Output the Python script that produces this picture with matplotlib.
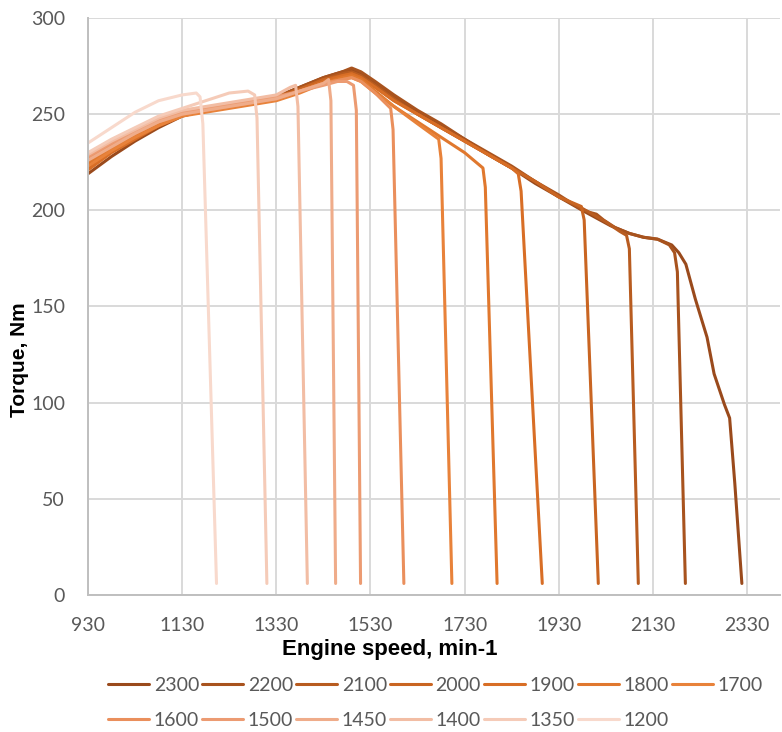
import matplotlib
matplotlib.use("Agg")
import matplotlib.pyplot as plt

# Governor speed settings (legend order) and line colours
settings = ["2300", "2200", "2100", "2000", "1900", "1800", "1700",
            "1600", "1500", "1450", "1400", "1350", "1200"]
colors = ["#9A4A1C", "#A8531E", "#B85C20", "#C96522", "#D86E26", "#E0782E", "#E8823A",
          "#EA8F5C", "#EC9B72", "#EFAC8A", "#F2BDA4", "#F5CBB8", "#F8D9CC"]

# Torque curves: engine speed (min-1) and torque (Nm) for each setting
speed_2300 = [930, 980, 1030, 1080, 1130, 1180, 1230, 1280, 1330, 1380, 1430, 1470, 1490, 1510,
              1540, 1580, 1630, 1680, 1730, 1780, 1830, 1880, 1930, 1980, 2010, 2040, 2080, 2110,
              2140, 2170, 2185, 2200, 2220, 2245, 2260, 2282, 2293, 2304, 2319]
torque_2300 = [219, 228, 236, 243, 249, 252, 254, 256, 259, 264, 269, 272, 273, 271,
               266, 259, 251, 244, 237, 229, 222, 214, 207, 200, 196, 192, 188, 186,
               185, 182, 178, 172, 154, 134, 115, 99, 92, 58, 6]

speed_2200 = [930, 980, 1030, 1080, 1130, 1180, 1230, 1280, 1330, 1380, 1430, 1470, 1490, 1510,
              1540, 1580, 1630, 1680, 1730, 1780, 1830, 1880, 1930, 1975, 1995, 2010, 2025, 2050,
              2080, 2110, 2140, 2165, 2176, 2182, 2199]
torque_2200 = [226, 233, 240, 246, 251, 253, 255, 257, 259, 264, 269, 272, 274, 272,
               267, 260, 252, 245, 237, 230, 223, 215, 208, 201, 199, 198, 195, 191,
               188, 186, 185, 182, 178, 168, 6]

speed_2100 = [930, 980, 1030, 1080, 1130, 1180, 1230, 1280, 1330, 1380, 1430, 1470, 1490, 1510,
              1540, 1580, 1630, 1680, 1730, 1780, 1830, 1880, 1930, 1980, 2030, 2060, 2074, 2080,
              2099]
torque_2100 = [222, 231, 238, 245, 250, 252, 254, 256, 258, 263, 268, 271, 272, 270,
               265, 258, 250, 243, 236, 229, 222, 215, 207, 201, 194, 189, 187, 180,
               6]

speed_2000 = [930, 980, 1030, 1080, 1130, 1180, 1230, 1280, 1330, 1380, 1430, 1470, 1490, 1510,
              1540, 1580, 1630, 1680, 1730, 1780, 1830, 1880, 1930, 1978, 1984, 2014]
torque_2000 = [224, 232, 239, 246, 251, 253, 255, 257, 259, 263, 268, 270, 271, 269,
               264, 257, 250, 243, 236, 229, 222, 215, 207, 202, 195, 6]

speed_1900 = [930, 980, 1030, 1080, 1130, 1180, 1230, 1280, 1330, 1380, 1430, 1470, 1490, 1510,
              1540, 1580, 1630, 1680, 1730, 1780, 1830, 1844, 1850, 1895]
torque_1900 = [221, 230, 237, 244, 249, 252, 254, 256, 258, 262, 267, 270, 271, 269,
               264, 257, 250, 243, 236, 229, 222, 219, 210, 6]

speed_1800 = [930, 980, 1030, 1080, 1130, 1180, 1230, 1280, 1330, 1380, 1430, 1470, 1490, 1510,
              1540, 1580, 1630, 1680, 1730, 1769, 1774, 1799]
torque_1800 = [225, 232, 239, 245, 250, 252, 254, 256, 258, 262, 266, 269, 270, 268,
               262, 254, 246, 238, 230, 222, 212, 6]

speed_1700 = [930, 980, 1030, 1080, 1130, 1180, 1230, 1280, 1330, 1380, 1430, 1470, 1490, 1510,
              1540, 1580, 1630, 1675, 1680, 1703]
torque_1700 = [223, 231, 238, 244, 249, 251, 253, 255, 257, 261, 266, 268, 269, 267,
               261, 254, 245, 237, 227, 6]

speed_1600 = [930, 980, 1030, 1080, 1130, 1180, 1230, 1280, 1330, 1380, 1430, 1470, 1490, 1510,
              1540, 1573, 1578, 1601]
torque_1600 = [227, 234, 240, 246, 250, 252, 254, 256, 258, 262, 266, 268, 269, 267,
               261, 253, 242, 6]

speed_1500 = [930, 980, 1030, 1080, 1130, 1180, 1230, 1280, 1330, 1380, 1430, 1460, 1480, 1494,
              1500, 1509]
torque_1500 = [228, 235, 241, 247, 251, 253, 255, 257, 259, 262, 265, 267, 267, 265,
               252, 6]

speed_1450 = [930, 980, 1030, 1080, 1130, 1180, 1230, 1280, 1330, 1380, 1430, 1441, 1446, 1456]
torque_1450 = [226, 233, 240, 246, 250, 252, 254, 256, 258, 262, 266, 268, 257, 6]

speed_1400 = [930, 980, 1030, 1080, 1130, 1180, 1230, 1280, 1330, 1360, 1371, 1376, 1396]
torque_1400 = [229, 236, 242, 248, 252, 254, 256, 258, 260, 264, 265, 254, 6]

speed_1350 = [930, 980, 1030, 1080, 1130, 1180, 1230, 1270, 1284, 1289, 1310]
torque_1350 = [230, 237, 243, 249, 253, 257, 261, 262, 260, 248, 6]

speed_1200 = [930, 980, 1030, 1080, 1130, 1160, 1168, 1174, 1203]
torque_1200 = [235, 243, 251, 257, 260, 261, 259, 245, 6]

speeds = [speed_2300, speed_2200, speed_2100, speed_2000, speed_1900, speed_1800, speed_1700,
          speed_1600, speed_1500, speed_1450, speed_1400, speed_1350, speed_1200]
torques = [torque_2300, torque_2200, torque_2100, torque_2000, torque_1900, torque_1800, torque_1700,
           torque_1600, torque_1500, torque_1450, torque_1400, torque_1350, torque_1200]

x_ticks = [930, 1130, 1330, 1530, 1730, 1930, 2130, 2330]
y_ticks = [0, 50, 100, 150, 200, 250, 300]

plt.rcParams["font.family"] = ["Lato", "DejaVu Sans"]

W, H = 782, 732
fig = plt.figure(figsize=(W / 100, H / 100), dpi=100)
ax = fig.add_axes([88 / W, 1 - 595 / H, (780 - 88) / W, (595 - 18) / H])

handles = []
for s, t, c, lab in zip(speeds, torques, colors, settings):
    h, = ax.plot(s, t, color=c, lw=2.2, label=lab, solid_joinstyle="round",
                 solid_capstyle="round")
    handles.append(h)

ax.set_xlim(930, 2400)
ax.set_ylim(0, 300)
ax.set_xticks(x_ticks)
ax.set_yticks(y_ticks)
ax.grid(True, color="#D9D9D9", lw=1.4)
ax.set_axisbelow(True)
for side in ("top", "right"):
    ax.spines[side].set_visible(False)
for side in ("left", "bottom"):
    ax.spines[side].set_color("#BFBFBF")
    ax.spines[side].set_linewidth(1.4)
ax.tick_params(axis="both", length=0, labelsize=14, labelcolor="#595959")
ax.tick_params(axis="y", pad=16.5)
ax.tick_params(axis="x", pad=16)

ax.set_xlabel("Engine speed, min-1", fontsize=16, fontweight="bold",
              family=["Liberation Sans", "DejaVu Sans"])
ax.xaxis.set_label_coords(0.436, -0.077)
ax.set_ylabel("Torque, Nm", fontsize=15, fontweight="bold",
              family=["Liberation Sans", "DejaVu Sans"])
ax.yaxis.set_label_coords(-0.085, 0.407)

# Row-major ordering for a two-row, seven-column legend
order = []
for j in range(7):
    order.append(j)
    if j + 7 < len(handles):
        order.append(j + 7)
fig.legend([handles[i] for i in order], [settings[i] for i in order],
           ncol=7, loc="upper left", bbox_to_anchor=(108 / W, 1 - 677 / H),
           frameon=False, fontsize=14, labelcolor="#595959",
           handlelength=2.1, handletextpad=0.25, columnspacing=0.15,
           labelspacing=0.9, borderpad=0, borderaxespad=0)

fig.savefig("out.png", dpi=100)
